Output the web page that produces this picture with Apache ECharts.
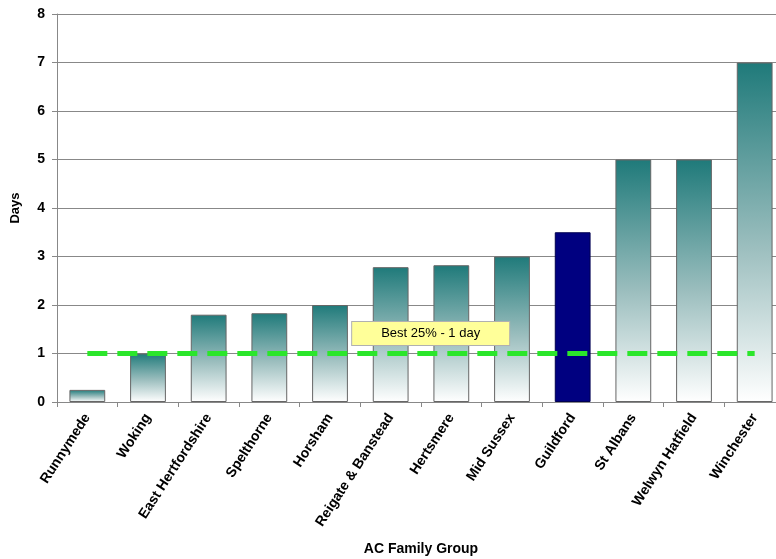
<!DOCTYPE html>
<html>
<head>
<meta charset="utf-8">
<script src="https://cdn.jsdelivr.net/npm/echarts@6/dist/echarts.min.js"></script>
<style>
  html, body { margin: 0; padding: 0; background: #fff; }
  #chart { width: 776px; height: 559px; }
</style>
</head>
<body>
<div id="chart"></div>
<script>
// Days taken per authority in the AC family group
const categories = ['Runnymede', 'Woking', 'East Hertfordshire', 'Spelthorne', 'Horsham',
  'Reigate & Banstead', 'Hertsmere', 'Mid Sussex', 'Guildford', 'St Albans',
  'Welwyn Hatfield', 'Winchester'];
const days = [0.25, 1.0, 1.8, 1.83, 2.0, 2.78, 2.82, 3.0, 3.5, 5.0, 5.0, 7.0];
const highlighted = 'Guildford';
const targetDays = 1;
const targetLabel = 'Best 25% - 1 day';
const yTicks = { min: 0, max: 8, interval: 1 };

const font = 'Liberation Sans, Arial, sans-serif';

const tealFade = new echarts.graphic.LinearGradient(0, 0, 0, 1, [
  { offset: 0, color: '#1f7a7a' },
  { offset: 0.55, color: '#9dbfbf' },
  { offset: 1, color: '#ffffff' }
]);

const barData = categories.map((c, i) => ({
  value: days[i],
  itemStyle: c === highlighted
    ? { color: '#000080', borderColor: '#000050', borderWidth: 1 }
    : { color: tealFade, borderColor: '#666', borderWidth: 1 }
}));

const chart = echarts.init(document.getElementById('chart'), null, { renderer: 'canvas' });
chart.setOption({
  animation: false,
  backgroundColor: '#ffffff',
  textStyle: { fontFamily: font },
  grid: {
    left: 57, top: 14, width: 728, height: 388,
    containLabel: false, outerBoundsMode: 'none'
  },
  xAxis: {
    type: 'category',
    data: categories,
    name: 'AC Family Group',
    nameLocation: 'middle',
    nameGap: 140,
    nameTextStyle: { fontWeight: 'bold', fontSize: 14, color: '#000', fontFamily: font },
    axisLine: { lineStyle: { color: '#888', width: 1 } },
    axisTick: { show: true, length: 5, lineStyle: { color: '#888' } },
    axisLabel: {
      interval: 0, rotate: 57, margin: 13,
      fontWeight: 'bold', fontSize: 14, color: '#000', fontFamily: font
    }
  },
  yAxis: {
    type: 'value',
    min: yTicks.min, max: yTicks.max, interval: yTicks.interval,
    name: 'Days',
    nameLocation: 'middle',
    nameGap: 35,
    nameRotate: 90,
    nameTextStyle: { fontWeight: 'bold', fontSize: 13, color: '#000', fontFamily: font },
    axisLine: { show: true, lineStyle: { color: '#888', width: 1 } },
    axisTick: { show: true, length: 5, lineStyle: { color: '#888' } },
    axisLabel: { fontWeight: 'bold', fontSize: 14, color: '#000', margin: 12, fontFamily: font },
    splitLine: { show: true, lineStyle: { color: '#888', width: 1 } }
  },
  series: [
    {
      type: 'bar',
      data: barData,
      barWidth: '59%',
      z: 2
    },
    {
      type: 'line',
      data: categories.map(() => targetDays),
      symbol: 'none',
      lineStyle: { color: '#2be62b', width: 5, type: [20, 10] },
      z: 3,
      markPoint: {
        symbol: 'rect',
        symbolSize: 0,
        data: [{
          coord: ['Reigate & Banstead', targetDays],
          label: {
            show: true,
            formatter: targetLabel,
            position: 'inside',
            offset: [40, -20],
            backgroundColor: '#ffff99',
            borderColor: '#b0b0b0',
            borderWidth: 1,
            padding: [5, 29, 5, 29],
            fontSize: 13,
            color: '#000',
            fontFamily: font
          }
        }]
      }
    }
  ]
});
</script>
</body>
</html>
